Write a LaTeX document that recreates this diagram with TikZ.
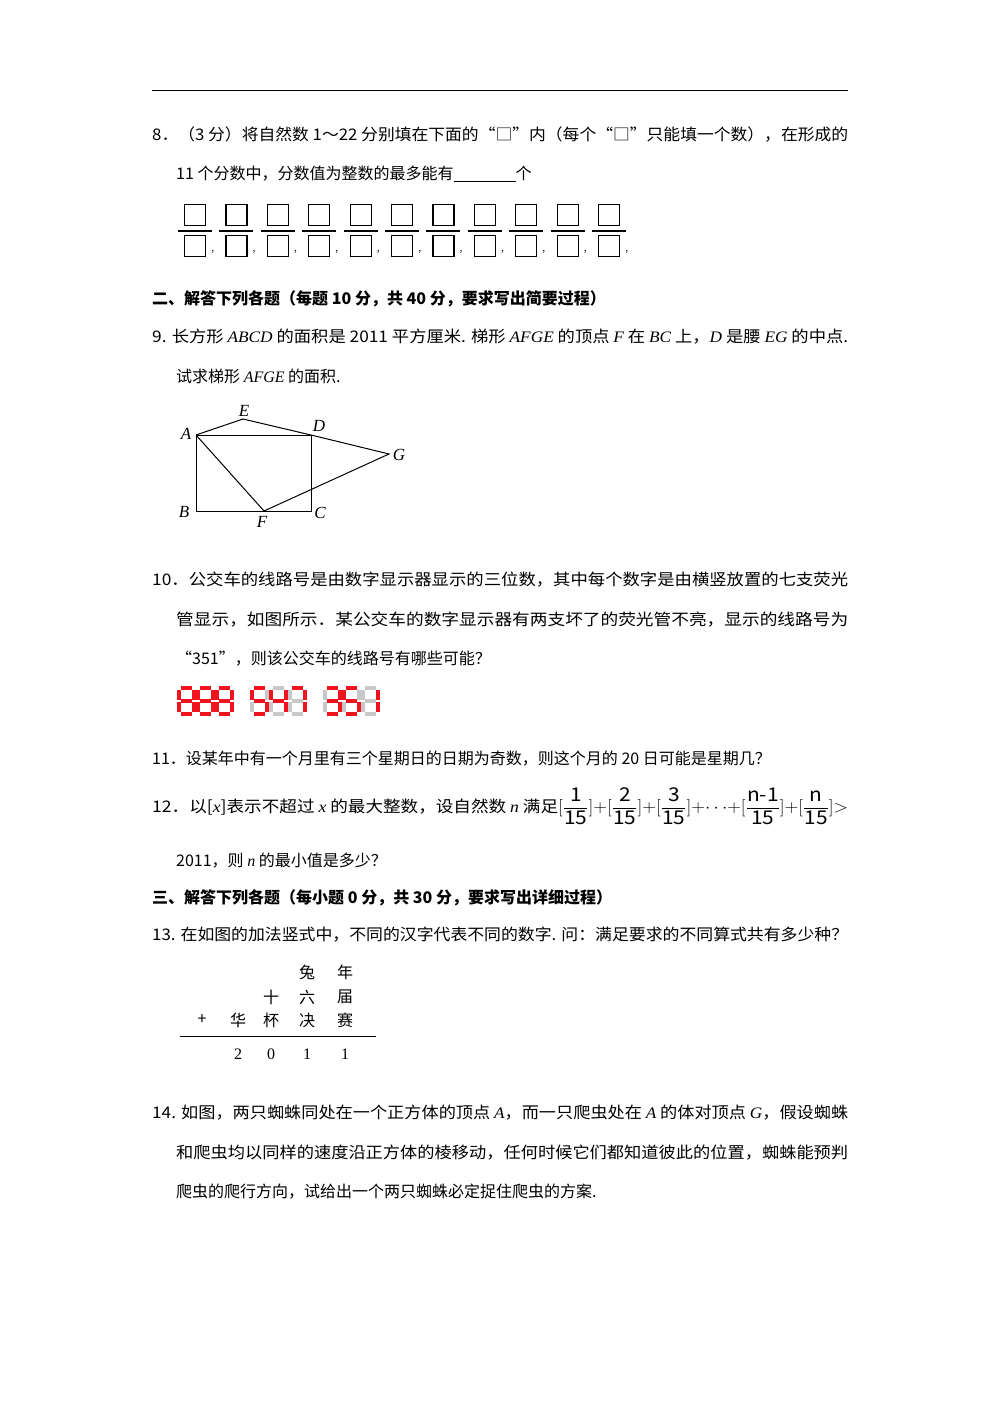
\documentclass[tikz,border=0pt]{standalone}
\usepackage{fontspec}
\setmainfont{Noto Sans CJK SC}
\newfontfamily\lat{Liberation Serif}
\newcommand\vi[1]{{\lat\itshape #1}}
\newcommand\fitw[2]{\sbox0{#2}\pgfmathsetmacro\rr{#1/\wd0}\scalebox{\rr}[1]{\usebox0}}
\newcommand\fr[2]{{\displaystyle\frac{\hbox{\fontsize{19}{19}\selectfont #1}}{\hbox{\fontsize{19}{19}\selectfont 15}}}}
\definecolor{R}{RGB}{240,20,30}
\definecolor{G}{RGB}{200,200,200}
\newcommand\sevseg[9]{%
\begin{scope}[shift={(#1,#2)}]
\fill[#3] (2.3,-1.8) rectangle (12.7,1.8);
\fill[#4] (13.2,2.3) rectangle (16.8,11.7);
\fill[#5] (13.2,14.3) rectangle (16.8,23.7);
\fill[#6] (2.3,24.2) rectangle (12.7,27.8);
\fill[#7] (-1.8,14.3) rectangle (1.8,23.7);
\fill[#8] (-1.8,2.3) rectangle (1.8,11.7);
\fill[#9] (2.3,11.2) rectangle (12.7,14.8);
\end{scope}}
\begin{document}
\begin{tikzpicture}[x=1pt,y=-1pt,
 txt/.style={anchor=west,inner sep=0pt,font=\fontsize{16}{20}\selectfont},
 lbl/.style={inner sep=0pt,font=\fontsize{17}{18}\selectfont\lat\itshape},
 bx/.style={draw,line width=1.2pt,minimum size=21pt,inner sep=0pt},
 geo/.style={line width=1pt}]
\useasboundingbox[fill=white] (0,0) rectangle (1000,1415);
\draw[line width=1pt] (152,91) -- (848,91);
\node[txt] (t8) at (152,135) {\fitw{696}{8．（3 分）将自然数 1～22 分别填在下面的“□”内（每个“□”只能填一个数），在形成的}};
\node[txt] (t8b) at (176,174) {11 个分数中，分数值为整数的最多能有\underline{\hspace{62pt}}个};
\foreach \i in {0,...,10}{
 \pgfmathsetmacro\cx{195+41.4*\i}
 \node[bx] (n\i) at (\cx,215) {};
 \node[bx] (d\i) at (\cx,246) {};
 \draw[line width=1.2pt] (\cx-17,231) -- (\cx+17,231);
 \node[inner sep=0pt,font=\fontsize{9}{9}\selectfont] at (\cx+20,252) {，};
}
\node[txt,font=\fontsize{16}{20}\selectfont\bfseries] (h2) at (152,299) {二、解答下列各题（每题 10 分，共 40 分，要求写出简要过程）};
\node[txt] (t9) at (152,337) {\fitw{696}{9. 长方形 \vi{ABCD} 的面积是 2011 平方厘米. 梯形 \vi{AFGE} 的顶点 \vi{F} 在 \vi{BC} 上，\vi{D} 是腰 \vi{EG} 的中点.}};
\node[txt] (t9b) at (176,376) {试求梯形 \vi{AFGE} 的面积.};
\coordinate (A) at (196,435); \coordinate (E) at (243,419); \coordinate (D) at (311,435);
\coordinate (G) at (389,454); \coordinate (B) at (196,511); \coordinate (C) at (311,511);
\coordinate (F) at (264,511);
\draw[geo] (A)--(D)--(C)--(B)--cycle;
\draw[geo] (A)--(E)--(D)--(G)--(F)--(A);
\node[lbl] at (186,434) {A}; \node[lbl] at (244,411) {E}; \node[lbl] at (319,426) {D};
\node[lbl] at (399,455) {G}; \node[lbl] at (184,512) {B}; \node[lbl] at (262,522) {F};
\node[lbl] at (320,513) {C};
\node[txt] (t10) at (152,580) {\fitw{696}{10．公交车的线路号是由数字显示器显示的三位数，其中每个数字是由横竖放置的七支荧光}};
\node[txt] (t10b) at (176,620) {\fitw{672}{管显示，如图所示．某公交车的数字显示器有两支坏了的荧光管不亮，显示的线路号为}};
\node[txt] (t10c) at (176,659) {“351”，则该公交车的线路号有哪些可能？};
\foreach \x in {179,198,217}{\sevseg{\x}{688}{R}{R}{R}{R}{R}{R}{R}}
\sevseg{252}{688}{R}{G}{R}{R}{G}{R}{R}
\sevseg{271}{688}{G}{R}{R}{G}{G}{R}{R}
\sevseg{290}{688}{R}{R}{R}{G}{G}{G}{G}
\sevseg{325}{688}{R}{R}{R}{R}{G}{G}{R}
\sevseg{344}{688}{R}{G}{R}{R}{G}{R}{R}
\sevseg{363}{688}{G}{R}{R}{G}{G}{G}{G}
\node[txt] (t11) at (152,759) {11．设某年中有一个月里有三个星期日的日期为奇数，则这个月的 20 日可能是星期几？};
\node[txt] (t12) at (152,806) {\fitw{696}{12．以[\vi{x}]表示不超过 \vi{x} 的最大整数，设自然数 \vi{n} 满足$[\fr{1}{15}]{+}[\fr{2}{15}]{+}[\fr{3}{15}]{+}{\cdots}{+}[\fr{n-1}{15}]{+}[\fr{n}{15}]{>}$}};
\node[txt] (t12b) at (176,861) {2011，则 \vi{n} 的最小值是多少？};
\node[txt,font=\fontsize{16}{20}\selectfont\bfseries] (h3) at (152,898) {三、解答下列各题（每小题 0 分，共 30 分，要求写出详细过程）};
\node[txt] (t13) at (152,935) {\fitw{696}{13. 在如图的加法竖式中，不同的汉字代表不同的数字. 问：满足要求的不同算式共有多少种？}};
\begin{scope}[every node/.style={inner sep=0pt,font=\fontsize{16}{18}\selectfont}]
\node at (307,972) {兔}; \node at (345,972) {年};
\node at (271,997) {十}; \node at (307,997) {六}; \node at (345,997) {届};
\node at (202,1020) {+}; \node at (238,1020) {华}; \node at (271,1020) {杯}; \node at (307,1020) {决}; \node at (345,1020) {赛};
\node at (238,1054) {\lat 2}; \node at (271,1054) {\lat 0}; \node at (307,1054) {\lat 1}; \node at (345,1054) {\lat 1};
\end{scope}
\draw[line width=1pt] (180,1036) -- (376,1036);
\node[txt] (t14) at (152,1113) {\fitw{696}{14. 如图，两只蜘蛛同处在一个正方体的顶点 \vi{A}，而一只爬虫处在 \vi{A} 的体对顶点 \vi{G}，假设蜘蛛}};
\node[txt] (t14b) at (176,1153) {\fitw{672}{和爬虫均以同样的速度沿正方体的棱移动，任何时候它们都知道彼此的位置，蜘蛛能预判}};
\node[txt] (t14c) at (176,1192) {爬虫的爬行方向，试给出一个两只蜘蛛必定捉住爬虫的方案.};
\end{tikzpicture}
\end{document}
